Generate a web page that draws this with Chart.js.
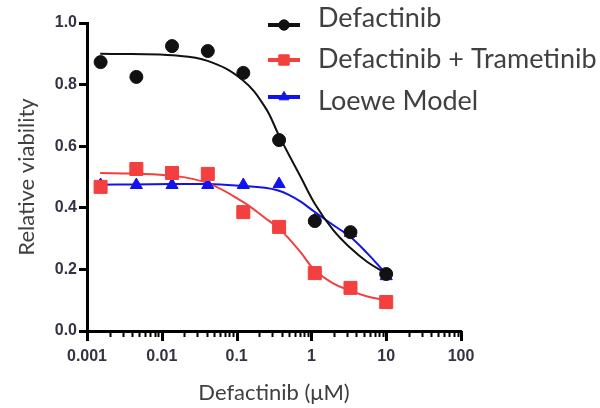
<!DOCTYPE html>
<html>
<head>
<meta charset="utf-8">
<script src="https://cdn.jsdelivr.net/npm/chart.js@4.4.1/dist/chart.umd.min.js"></script>
<style>
  html, body { margin: 0; padding: 0; background: #fff; }
  canvas { display: block; }
</style>
</head>
<body>
<canvas id="grafico" width="600" height="408"></canvas>
<script>
// concentrações medidas (µM) e viabilidade relativa
const doses = [0.00152, 0.00457, 0.0137, 0.0412, 0.123, 0.370, 1.11, 3.33, 10];
const defactinib = [0.873, 0.825, 0.925, 0.909, 0.838, 0.620, 0.357, 0.321, 0.185];
const combinacao = [0.468, 0.526, 0.513, 0.510, 0.386, 0.338, 0.188, 0.140, 0.094];
const loewe = [0.474, 0.474, 0.474, 0.474, 0.474, 0.477, 0.360, 0.318, 0.178];

// curvas ajustadas
const dosesCurva = [0.0015, 0.004, 0.014, 0.041, 0.12, 0.24, 0.36, 0.5, 0.72, 1.1, 1.95, 3.3, 5.6, 10];
const curvaDefactinib = [0.900, 0.899, 0.895, 0.877, 0.815, 0.727, 0.640, 0.572, 0.500, 0.415, 0.328, 0.270, 0.224, 0.187];
const curvaCombinacao = [0.513, 0.511, 0.504, 0.480, 0.420, 0.367, 0.335, 0.300, 0.255, 0.198, 0.155, 0.131, 0.112, 0.100];
const curvaLoewe = [0.475, 0.476, 0.477, 0.477, 0.471, 0.465, 0.456, 0.442, 0.420, 0.387, 0.344, 0.306, 0.252, 0.185];

const legendas = ["Defactinib", "Defactinib + Trametinib", "Loewe Model"];
const ticksY = [0, 0.2, 0.4, 0.6, 0.8, 1.0];

const PRETO = "#111111";
const VERMELHO = "#f43f3f";
const AZUL = "#1212ee";

function pares(xs, ys) {
  return xs.map((x, i) => ({ x, y: ys[i] }));
}

function ehDecada(v) {
  const e = Math.log10(v);
  return Math.abs(e - Math.round(e)) < 1e-6;
}

function formatarDecada(v) {
  const e = Math.round(Math.log10(v));
  return e < 0 ? Math.pow(10, e).toFixed(-e) : String(Math.pow(10, e));
}

const ticksEixoX = {
  id: "ticksEixoX",
  afterDraw(chart) {
    const scale = chart.scales.x;
    const ctx = chart.ctx;
    ctx.save();
    ctx.strokeStyle = "#000";
    scale.ticks.forEach(t => {
      const exp = Math.floor(Math.log10(t.value) + 1e-9);
      const m = t.value / Math.pow(10, exp);
      if (Math.abs(m - Math.round(m)) > 1e-6) return;
      const major = ehDecada(t.value);
      const px = Math.round(scale.getPixelForValue(t.value)) + 0.5;
      ctx.lineWidth = major ? 3 : 2;
      ctx.beginPath();
      ctx.moveTo(px, scale.top);
      ctx.lineTo(px, scale.top + (major ? 10 : 6));
      ctx.stroke();
    });
    ctx.restore();
  }
};

const legendaFigura = {
  id: "legendaFigura",
  afterDraw(chart) {
    const ctx = chart.ctx;
    const linhaY = [25, 60, 97];
    const textoY = [27, 68, 110];
    ctx.save();
    legendas.forEach((texto, i) => {
      const ds = chart.data.datasets[i];
      ctx.strokeStyle = ds.borderColor;
      ctx.fillStyle = ds.backgroundColor;
      ctx.lineWidth = 4;
      ctx.beginPath();
      ctx.moveTo(268, linhaY[i]);
      ctx.lineTo(300, linhaY[i]);
      ctx.stroke();
      ctx.lineWidth = 1;
      Chart.helpers.drawPoint(ctx, {
        pointStyle: ds.pointStyle,
        radius: ds.pointRadius * 0.8,
        rotation: 0,
        borderWidth: 1
      }, 284, linhaY[i]);
      ctx.fillStyle = "#404040";
      ctx.font = "27px Lato";
      ctx.textBaseline = "alphabetic";
      ctx.textAlign = "left";
      ctx.fillText(texto, 318, textoY[i]);
    });
    ctx.restore();
  }
};

function serieDePontos(label, ys, cor, estilo, raio) {
  return {
    label,
    data: pares(doses, ys),
    showLine: false,
    pointStyle: estilo,
    pointRadius: raio,
    pointHoverRadius: raio,
    pointBorderWidth: 1,
    borderColor: cor,
    backgroundColor: cor,
    clip: false
  };
}

function serieDeCurva(ys, cor) {
  return {
    data: pares(dosesCurva, ys),
    showLine: true,
    pointRadius: 0,
    borderColor: cor,
    borderWidth: 2,
    tension: 0.4,
    fill: false,
    clip: false
  };
}

const fonteTicks = { family: "'Liberation Sans', Arial", size: 16, weight: "bold" };
const fonteTitulo = { family: "Lato", size: 22 };

new Chart(document.getElementById("grafico"), {
  type: "scatter",
  data: {
    datasets: [
      serieDePontos(legendas[0], defactinib, PRETO, "circle", 6.5),
      serieDePontos(legendas[1], combinacao, VERMELHO, "rect", 9.2),
      serieDePontos(legendas[2], loewe, AZUL, "triangle", 7),
      serieDeCurva(curvaDefactinib, PRETO),
      serieDeCurva(curvaCombinacao, VERMELHO),
      serieDeCurva(curvaLoewe, AZUL)
    ]
  },
  options: {
    responsive: false,
    animation: false,
    devicePixelRatio: 1,
    layout: { padding: { left: 0, top: 23, right: 139, bottom: 0 } },
    plugins: {
      legend: { display: false },
      tooltip: { enabled: false }
    },
    scales: {
      x: {
        type: "logarithmic",
        min: 0.001,
        max: 100,
        grid: { display: false, drawTicks: true, tickLength: 8 },
        border: { display: true, color: "#000", width: 3 },
        ticks: {
          autoSkip: false,
          maxRotation: 0,
          padding: 8,
          color: "#333344",
          font: fonteTicks,
          callback: v => ehDecada(v) ? formatarDecada(v) : ""
        },
        title: {
          display: true,
          text: "Defactinib (μM)",
          color: "#404040",
          font: fonteTitulo,
          padding: { top: 0, bottom: 2 }
        },
        afterFit(scale) { scale.height = 77; }
      },
      y: {
        min: 0,
        max: 1,
        afterBuildTicks(scale) { scale.ticks = ticksY.map(value => ({ value })); },
        grid: { drawOnChartArea: false, drawTicks: true, tickLength: 8, tickWidth: 3, tickColor: "#000" },
        border: { display: true, color: "#000", width: 3 },
        ticks: {
          padding: 2,
          color: "#333344",
          font: fonteTicks,
          callback: v => Number(v).toFixed(1)
        },
        title: {
          display: true,
          text: "Relative viability",
          color: "#404040",
          font: fonteTitulo,
          padding: { top: 14, bottom: 0 }
        },
        afterFit(scale) { scale.width = 87; }
      }
    }
  },
  plugins: [ticksEixoX, legendaFigura]
});
</script>
</body>
</html>
